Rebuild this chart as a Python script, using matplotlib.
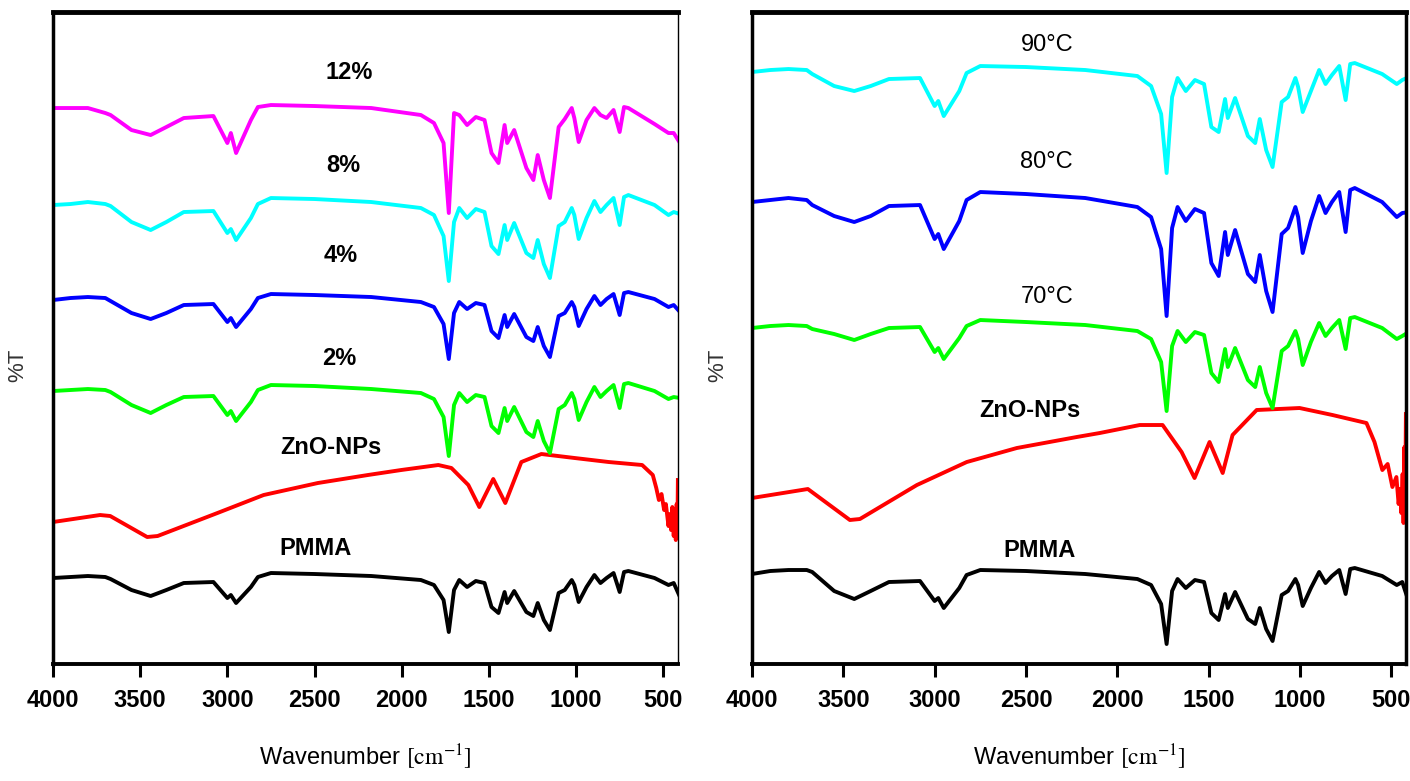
import matplotlib
matplotlib.use("Agg")
import matplotlib.pyplot as plt

plt.rcParams['font.family'] = ['Liberation Sans Narrow', 'Liberation Sans', 'DejaVu Sans']
plt.rcParams['mathtext.fontset'] = 'stix'

# wavenumber grid shared by the PMMA-like spectra (cm-1)
wn_pmma = [4000, 3900, 3800, 3700, 3670, 3550, 3440, 3350, 3250, 3080,
           3000, 2980, 2950, 2865, 2825, 2750, 2500, 2175, 1890, 1815,
           1760, 1730, 1700, 1670, 1625, 1575, 1525, 1485, 1445, 1410,
           1395, 1355, 1285, 1245, 1220, 1185, 1150, 1100, 1065, 1025,
           1010, 985, 940, 895, 860, 825, 785, 750, 725, 700,
           550, 470, 440, 404]

# left panel (offset %T, arbitrary units)
pmma_l = [86, 87, 88, 87, 85, 74, 68, 74, 81, 82,
          66, 69, 61, 77, 87, 91, 90, 88, 84, 79,
          64, 32, 74, 84, 77, 83, 81, 57, 51, 72,
          61, 73, 52, 48, 61, 44, 34, 71, 74, 84,
          79, 62, 77, 89, 81, 86, 91, 72, 92, 93,
          86, 79, 81, 67]
pct2 = [273, 274, 275, 274, 272, 259, 251, 259, 267, 268,
        249, 253, 243, 262, 274, 279, 278, 275, 271, 265,
        247, 208, 259, 271, 262, 269, 267, 238, 231, 256,
        243, 257, 232, 227, 243, 223, 211, 255, 259, 271,
        265, 244, 262, 277, 267, 273, 279, 256, 280, 281,
        273, 265, 267, 266]
pct4 = [364, 366, 367, 366, 363, 351, 345, 351, 359, 360,
        342, 346, 337, 355, 366, 370, 369, 367, 362, 357,
        340, 305, 351, 362, 355, 361, 359, 333, 326, 349,
        337, 350, 327, 323, 337, 318, 307, 348, 351, 362,
        357, 338, 355, 368, 359, 365, 370, 349, 371, 372,
        365, 357, 359, 352]
pct8 = [459, 460, 462, 460, 458, 442, 434, 442, 452, 453,
        431, 435, 424, 446, 460, 466, 465, 462, 456, 449,
        428, 383, 442, 456, 446, 455, 452, 418, 410, 439,
        424, 441, 411, 406, 424, 400, 386, 438, 442, 456,
        449, 425, 446, 463, 452, 459, 466, 439, 467, 469,
        459, 449, 452, 450]
pct12 = [556, 556, 556, 551, 549, 534, 529, 537, 546, 548,
         521, 531, 511, 544, 557, 559, 558, 556, 549, 541,
         521, 451, 551, 549, 539, 547, 544, 511, 501, 539,
         521, 534, 496, 484, 509, 484, 466, 537, 545, 556,
         546, 522, 544, 556, 549, 546, 554, 532, 557, 556,
         540, 531, 531, 521]

wn_zno_l = [4000, 3730, 3672, 3460, 3400, 3057, 2792, 2481, 2194, 2003,
            1790, 1715, 1618, 1555, 1475, 1406, 1314, 1199, 1008, 813,
            621, 560, 540, 525, 510, 495, 485, 470, 462, 455,
            448, 440, 434, 428, 423, 419, 416]
zno_l = [142, 149, 148, 127, 128, 151, 169, 181, 189, 194,
         199, 196, 179, 157, 185, 161, 202, 210, 206, 202,
         199, 189, 176, 164, 170, 154, 160, 138, 150, 134,
         157, 128, 150, 124, 160, 130, 184]

# right panel
pmma_r = [90, 93, 94, 94, 92, 73, 65, 73, 82, 83,
          63, 66, 56, 76, 89, 94, 93, 90, 85, 79,
          60, 20, 73, 85, 76, 84, 82, 51, 44, 70,
          56, 72, 45, 40, 56, 35, 23, 69, 73, 85,
          79, 58, 76, 92, 81, 88, 94, 70, 95, 96,
          88, 79, 82, 62]
t70 = [336, 338, 339, 338, 335, 330, 324, 330, 336, 337,
       312, 316, 305, 326, 338, 344, 342, 339, 333, 325,
       302, 253, 318, 333, 322, 332, 329, 291, 282, 315,
       297, 316, 284, 277, 297, 271, 256, 313, 318, 333,
       325, 299, 322, 341, 328, 336, 344, 315, 346, 347,
       336, 325, 328, 332]
t80 = [462, 464, 466, 464, 459, 448, 442, 448, 458, 459,
       425, 430, 415, 443, 464, 472, 470, 466, 457, 447,
       415, 348, 436, 457, 443, 455, 451, 401, 388, 432,
       409, 434, 390, 382, 409, 373, 352, 430, 436, 457,
       447, 411, 443, 468, 451, 462, 472, 432, 474, 476,
       462, 447, 451, 452]
t90 = [592, 594, 595, 594, 590, 578, 573, 578, 585, 586,
       558, 563, 548, 573, 591, 598, 597, 594, 588, 578,
       550, 491, 567, 586, 573, 584, 580, 537, 532, 565,
       546, 566, 528, 521, 545, 514, 497, 562, 567, 586,
       577, 552, 573, 594, 580, 589, 598, 564, 600, 601,
       590, 580, 584, 587]

wn_zno_r = [4000, 3694, 3464, 3409, 3097, 2824, 2550, 2222, 2096, 1877,
            1752, 1648, 1577, 1495, 1423, 1369, 1237, 1002, 822, 636,
            592, 549, 520, 494, 472, 460, 452, 445, 438, 433,
            428, 424, 420]
zno_r = [166, 175, 144, 145, 179, 202, 216, 227, 231, 239,
         239, 212, 186, 222, 191, 229, 254, 256, 249, 241,
         222, 194, 200, 177, 187, 160, 175, 151, 190, 141,
         217, 150, 250]

xticks = [4000, 3500, 3000, 2500, 2000, 1500, 1000, 500]


def style_axes(ax, xmax_end, right_lw):
    ax.set_xlim(4000, xmax_end)
    ax.set_ylim(0, 652)
    ax.set_yticks([])
    ax.set_xticks(xticks)
    ax.tick_params(axis='x', direction='out', length=9, width=2.2, pad=9,
                   labelsize=17)
    for lab in ax.get_xticklabels():
        lab.set_fontweight('bold')
    ax.spines['top'].set_linewidth(3.5)
    ax.spines['bottom'].set_linewidth(2.8)
    ax.spines['left'].set_linewidth(2.5)
    ax.spines['right'].set_linewidth(right_lw)
    ax.set_xlabel(r'Wavenumber $\mathrm{[cm^{-1}]}$', fontsize=17, labelpad=22)


fig = plt.figure(figsize=(14.1, 7.81), dpi=100)
ax1 = fig.add_axes([0.0376, 0.1498, 0.4433, 0.8348])
ax2 = fig.add_axes([0.5333, 0.1498, 0.4638, 0.8348])

lw = 2.8
ax1.plot(wn_pmma, pmma_l, color='black', lw=lw)
ax1.plot(wn_zno_l, zno_l, color='#ff0000', lw=lw)
ax1.plot(wn_pmma, pct2, color='#00ff00', lw=lw)
ax1.plot(wn_pmma, pct4, color='#0000ff', lw=lw)
ax1.plot(wn_pmma, pct8, color='#00ffff', lw=lw)
ax1.plot(wn_pmma, pct12, color='#ff00ff', lw=lw)

lab_kw = dict(ha='center', va='center', fontsize=17, fontweight='bold')
ax1.text(2303, 592, '12%', **lab_kw)
ax1.text(2337, 499, '8%', **lab_kw)
ax1.text(2349, 409, '4%', **lab_kw)
ax1.text(2360, 306, '2%', **lab_kw)
ax1.text(2406, 217, 'ZnO-NPs', **lab_kw)
ax1.text(2492, 116, 'PMMA', **lab_kw)
style_axes(ax1, 415, 1.0)

ax2.plot(wn_pmma, pmma_r, color='black', lw=lw)
ax2.plot(wn_zno_r, zno_r, color='#ff0000', lw=lw)
ax2.plot(wn_pmma, t70, color='#00ff00', lw=lw)
ax2.plot(wn_pmma, t80, color='#0000ff', lw=lw)
ax2.plot(wn_pmma, t90, color='#00ffff', lw=lw)

deg_kw = dict(ha='center', va='center', fontsize=17)
ax2.text(2386, 619, '90°C', **deg_kw)
ax2.text(2386, 502, '80°C', **deg_kw)
ax2.text(2386, 367, '70°C', **deg_kw)
ax2.text(2479, 254, 'ZnO-NPs', **lab_kw)
ax2.text(2425, 114, 'PMMA', **lab_kw)
style_axes(ax2, 420, 2.5)

fig.text(18 / 1410, 1 - 365 / 781, '%T', rotation=90, ha='center',
         va='center', fontsize=16, color='#333333')
fig.text(718 / 1410, 1 - 365 / 781, '%T', rotation=90, ha='center',
         va='center', fontsize=16, color='#333333')

fig.savefig('out.png', dpi=100)
